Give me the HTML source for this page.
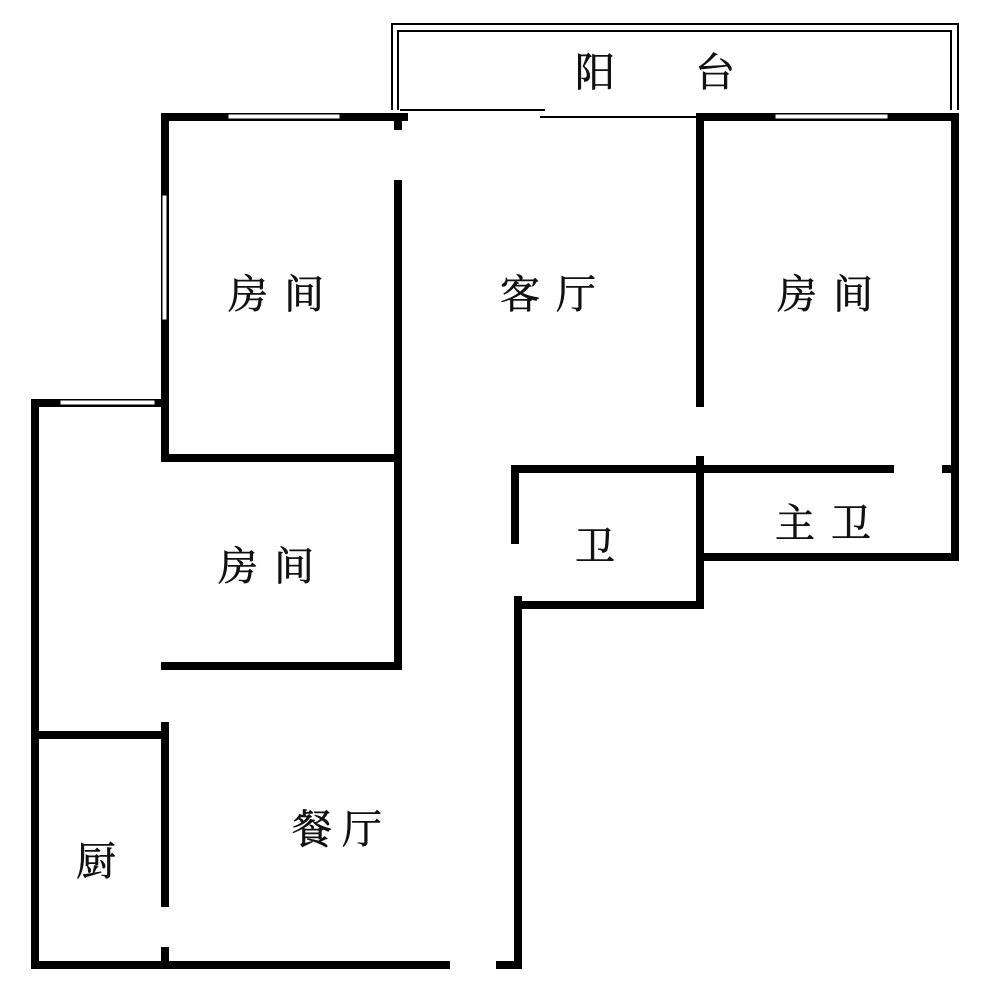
<!DOCTYPE html>
<html><head><meta charset="utf-8"><style>
html,body{margin:0;padding:0;background:#fff;}
svg{display:block}
text{font-family:"Liberation Serif","Noto Serif CJK SC",serif;font-size:40px;fill:#111;stroke:#111;stroke-width:0.6px;}
.sp{letter-spacing:16px;}
</style></head><body>
<svg width="1000" height="1001" viewBox="0 0 1000 1001" xmlns="http://www.w3.org/2000/svg">
<g stroke="#000" fill="none" stroke-width="2">
  <path d="M392 110 V24 H958 V110"/>
  <path d="M398 110 V31 H951 V110"/>
  <line x1="400" y1="110" x2="545" y2="110"/>
  <line x1="540" y1="117" x2="697" y2="117"/>
</g>
<g stroke="#000" stroke-width="8" fill="none" stroke-linecap="square">
  <line x1="165" y1="117" x2="404" y2="117"/>
  <line x1="165" y1="117" x2="165" y2="458"/>
  <line x1="398" y1="117" x2="398" y2="126"/>
  <line x1="398" y1="184" x2="398" y2="666"/>
  <line x1="165" y1="458" x2="398" y2="458"/>
  <line x1="700" y1="117" x2="955" y2="117"/>
  <line x1="700" y1="117" x2="700" y2="403"/>
  <line x1="955" y1="117" x2="955" y2="557"/>
  <line x1="700" y1="460" x2="700" y2="605"/>
  <line x1="515" y1="469" x2="890" y2="469"/>
  <line x1="946" y1="469" x2="955" y2="469"/>
  <line x1="700" y1="557" x2="955" y2="557"/>
  <line x1="515" y1="469" x2="515" y2="540"/>
  <line x1="518" y1="600" x2="518" y2="965"/>
  <line x1="518" y1="605" x2="700" y2="605"/>
  <line x1="35" y1="403" x2="165" y2="403"/>
  <line x1="35" y1="403" x2="35" y2="965"/>
  <line x1="165" y1="666" x2="398" y2="666"/>
  <line x1="35" y1="735" x2="165" y2="735"/>
  <line x1="165" y1="726" x2="165" y2="903"/>
  <line x1="165" y1="951" x2="165" y2="965"/>
  <line x1="35" y1="965" x2="446" y2="965"/>
  <line x1="500" y1="965" x2="518" y2="965"/>
</g>
<g fill="#fff" stroke="#000" stroke-width="1">
  <rect x="228" y="114" width="112" height="5"/>
  <rect x="775" y="114" width="113" height="5"/>
  <rect x="162" y="195" width="5" height="125"/>
  <rect x="60" y="400" width="95" height="5"/>
</g>
<text x="575" y="86">阳</text>
<text x="695" y="86">台</text>
<text class="sp" x="228" y="308">房间</text>
<text class="sp" x="500" y="308">客厅</text>
<text class="sp" x="777" y="308">房间</text>
<text class="sp" x="218" y="580">房间</text>
<text x="575" y="560">卫</text>
<text class="sp" x="775" y="537">主卫</text>
<text x="292" y="843">餐 厅</text>
<text x="76" y="875">厨</text>
</svg>
</body></html>
